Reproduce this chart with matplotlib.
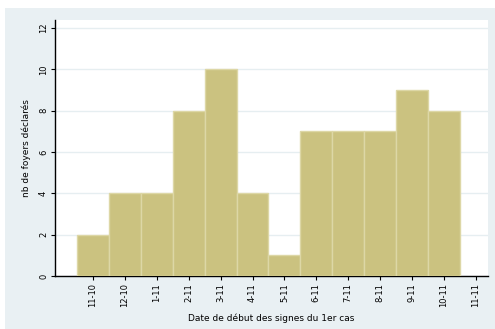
import matplotlib
matplotlib.use("Agg")
import matplotlib.pyplot as plt
from matplotlib.patches import Rectangle
import numpy as np

dates = ["11-10", "12-10", "1-11", "2-11", "3-11", "4-11", "5-11",
         "6-11", "7-11", "8-11", "9-11", "10-11", "11-11"]
foyers = [2, 4, 4, 8, 10, 4, 1, 7, 7, 7, 9, 8]
yticks = [0, 2, 4, 6, 8, 10, 12]

W, H = 495, 329
fig = plt.figure(figsize=(W / 100, H / 100), dpi=100)
fig.patch.set_facecolor("white")
# light grey-blue panel behind the plot
fig.add_artist(Rectangle((5 / W, 0), 1 - 5 / W, 1 - 8 / H,
                         transform=fig.transFigure, facecolor="#e9f0f3",
                         edgecolor="none", zorder=-10))

ax = fig.add_axes([55 / W, 1 - 276 / H, (488 - 55) / W, (276 - 20) / H])
ax.set_facecolor("white")

x = np.arange(len(foyers))
ax.bar(x, foyers, width=1.0, color="#cbc280", edgecolor="#ddd7a6",
       linewidth=1.0, zorder=3)

ax.set_xlim(-1.19, 12.38)
ax.set_ylim(0, 12.39)
ax.set_xticks(np.arange(len(dates)))
ax.set_xticklabels(dates, rotation=90, fontsize=6)
ax.set_yticks(yticks)
ax.set_yticklabels([str(v) for v in yticks], rotation=90, fontsize=6, va="center")
ax.yaxis.grid(True, color="#e6eef1", linewidth=1.0, zorder=0)
ax.set_axisbelow(True)

for s in ["top", "right"]:
    ax.spines[s].set_visible(False)
for s in ["left", "bottom"]:
    ax.spines[s].set_color("black")
    ax.spines[s].set_linewidth(1.0)
ax.tick_params(direction="out", length=3, width=0.8, pad=2)

ax.set_ylabel("nb de foyers déclarés", fontsize=6.5, labelpad=6)
ax.set_xlabel("Date de début des signes du 1er cas", fontsize=6.5, labelpad=5)

fig.savefig("out.png", dpi=100)
